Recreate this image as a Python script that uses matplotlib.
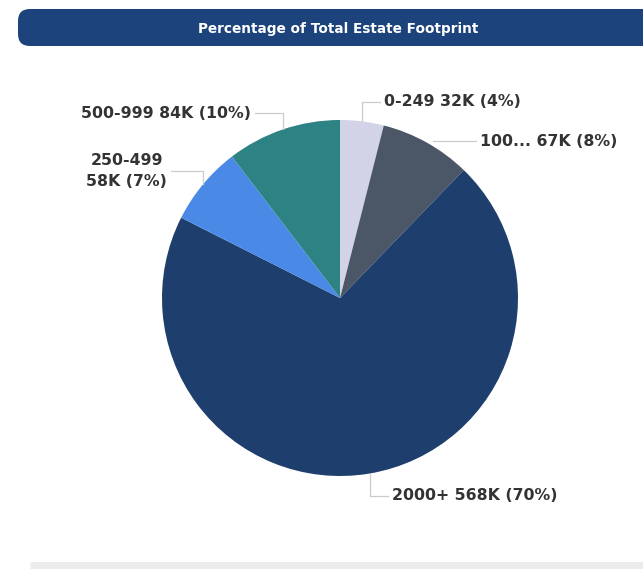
import numpy as np
import matplotlib.pyplot as plt
from matplotlib.patches import FancyBboxPatch

# estate size bands (sq ft), clockwise from 12 o'clock
bands = ['0-249', '100...', '2000+', '250-499', '500-999']
values = [32, 67, 568, 58, 84]            # thousands
labels = ['0-249 32K (4%)', '100... 67K (8%)', '2000+ 568K (70%)',
          '250-499\n58K (7%)', '500-999 84K (10%)']
colors = ['#d3d3e7', '#4b5667', '#1e3e6d', '#4a8ae6', '#2d8384']

W, H = 643, 571
fig = plt.figure(figsize=(W / 100, H / 100), dpi=100)
ax = fig.add_axes([0, 0, 1, 1])
ax.set_xlim(0, W)
ax.set_ylim(0, H)
ax.set_aspect('equal')
ax.axis('off')

# header bar
bar = FancyBboxPatch((18, H - 46), 700, 37, boxstyle='round,pad=0,rounding_size=12',
                     fc='#1c437b', ec='none')
ax.add_patch(bar)
ax.text(338, H - 29, 'Percentage of Total Estate Footprint', color='white',
        fontsize=9.8, fontweight='bold', ha='center', va='center')

# bottom divider
ax.plot([30, W], [H - 565, H - 565], color='#ececec', lw=5, solid_capstyle='butt')

cx, cy, r = 340, H - 298, 178
wedges, _ = ax.pie(values, colors=colors, startangle=90, counterclock=False,
                   center=(cx, cy), radius=r, wedgeprops=dict(lw=0))
ax.set_xlim(0, W)
ax.set_ylim(0, H)

# text anchor for each label (x, y, alignment)
label_pos = [
    (384, H - 102, 'left'),
    (480, H - 141, 'left'),
    (392, H - 496, 'left'),
    (167, H - 171, 'right'),
    (251, H - 113, 'right'),
]
for w, lab, (tx, ty, ha) in zip(wedges, labels, label_pos):
    mid = np.deg2rad((w.theta1 + w.theta2) / 2)
    ex, ey = cx + r * np.cos(mid), cy + r * np.sin(mid)
    ox = cx + (r + 12) * np.cos(mid)
    gap = 4 if ha == 'left' else -4
    if abs(ty - ey) > 12:
        xs = [ex, ex, tx - gap]
        ys = [ey, ty, ty]
    else:
        xs = [ox, tx - gap]
        ys = [ty, ty]
    ax.plot(xs, ys, color='#cccccc', lw=0.9)
    ax.text(tx, ty, lab, ha=ha, va='center', fontsize=11.3, fontweight='bold',
            color='#333333', linespacing=1.45,
            multialignment='center')

fig.savefig('out.png', dpi=100, facecolor='white')
